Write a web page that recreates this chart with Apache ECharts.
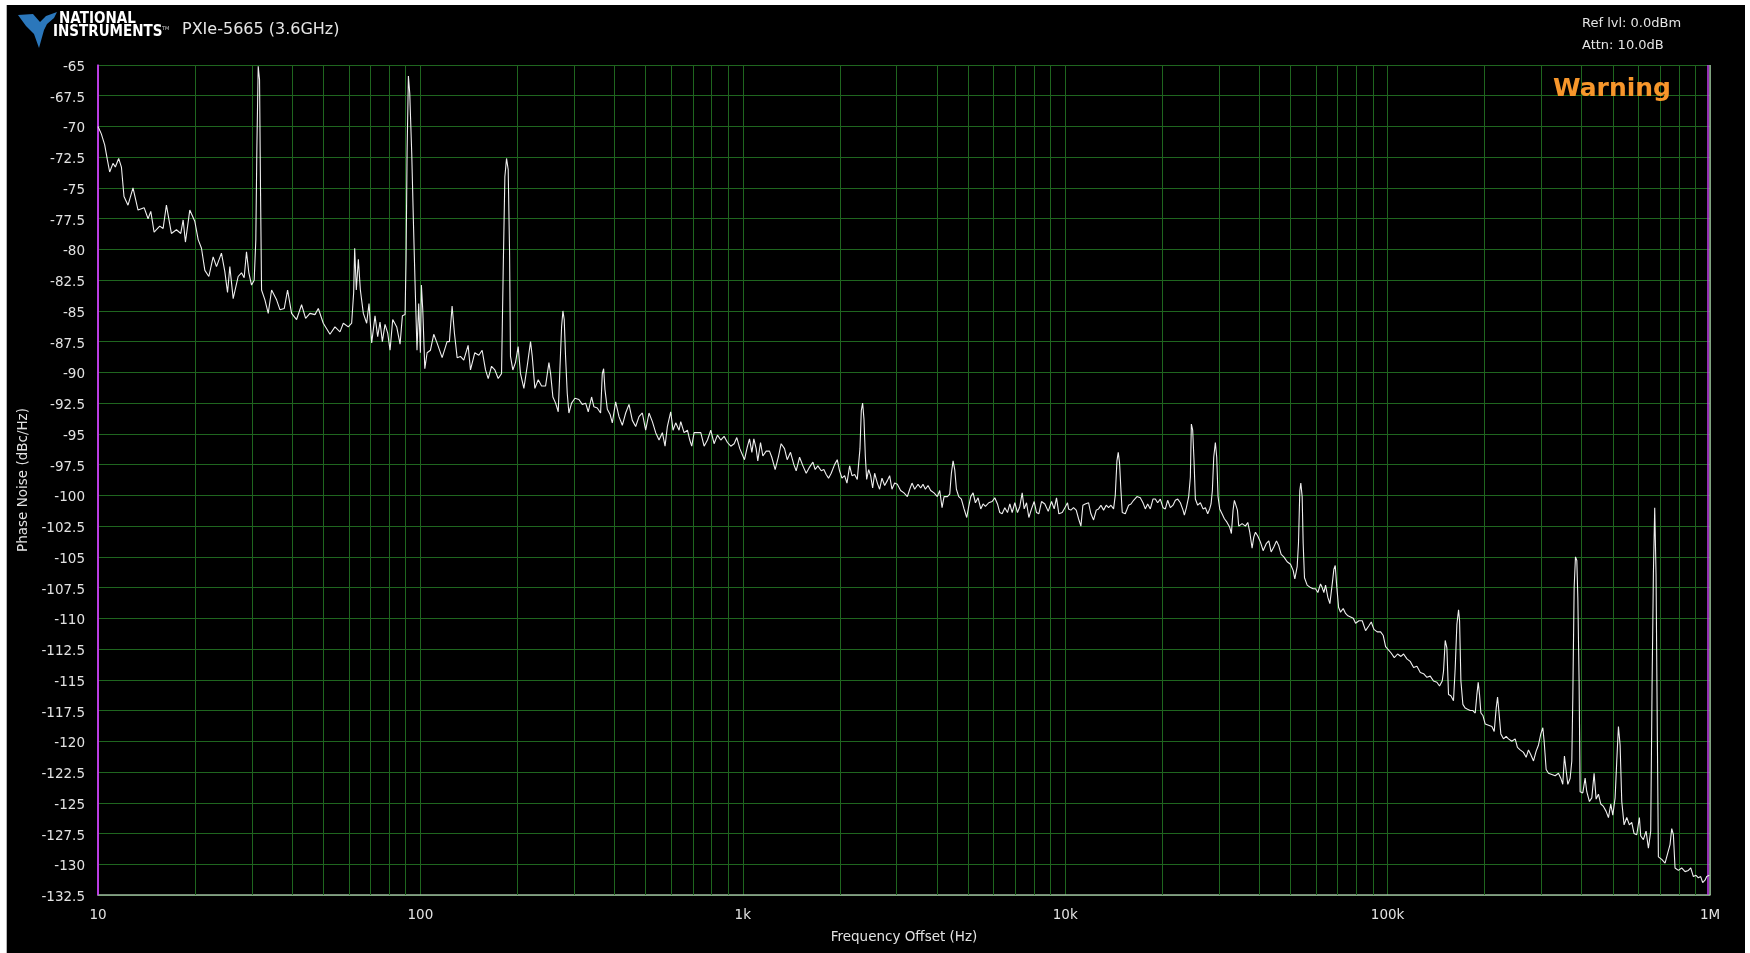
<!DOCTYPE html>
<html>
<head>
<meta charset="utf-8">
<title>PXIe-5665 Phase Noise</title>
<script src="https://cdn.jsdelivr.net/npm/echarts/dist/echarts.min.js"></script>
<style>
  html, body { margin: 0; padding: 0; background: #ffffff; width: 1750px; height: 953px; overflow: hidden; }
  #chart { position: absolute; left: 6px; top: 5px; width: 1738px; height: 948px; background: #000; border-left: 1px solid #b4b4b4; }
</style>
</head>
<body>
<div id="chart"></div>
<script>
// ---------------- DATA ----------------
const xTickLabels = ['10', '100', '1k', '10k', '100k', '1M'];
const yTickMin = -132.5, yTickMax = -65, yTickStep = 2.5;
const minorGridHz = [20,30,40,50,60,70,80,90, 200,300,400,500,600,700,800,900,
  2000,3000,4000,5000,6000,7000,8000,9000, 20000,30000,40000,50000,60000,70000,80000,90000,
  200000,300000,400000,500000,600000,700000,800000,900000];
const cursorLeftHz = 10;
const cursorRightHz = 985000;

// 10 Hz - 100 Hz
const offsetHz1 = [10.0,10.24,10.49,10.69,10.87,11.13,11.32,11.59,11.82,12.04,
  12.39,12.84,13.31,13.90,14.30,14.58,14.93,15.54,15.92,16.30,
  16.89,17.51,18.06,18.37,18.67,19.26,19.96,20.45,20.94,21.45,
  22.07,22.76,23.31,24.15,24.74,25.22,25.64,26.26,27.21,27.87,
  28.40,28.88,29.37,29.94,30.51,30.87,31.10,31.40,31.70,31.93,
  32.16,32.94,33.73,34.55,35.80,36.67,37.82,38.73,39.85,41.30,
  42.80,44.05,45.43,47.09,48.23,49.98,52.42,54.33,56.30,57.67,
  59.76,61.20,62.09,62.54,63.28,64.20,65.13,66.53,68.13,69.28,
  70.62,72.32,73.71,74.95,76.21,77.68,79.18,80.51,82.06,84.44,
  86.48,87.93,89.63,90.27,90.92,91.78,92.67,94.0,95.1,96.2,97.6];
const noise1 = [-70.0,-70.6,-71.5,-72.7,-73.7,-73.0,-73.3,-72.6,-73.3,-75.7,
  -76.4,-75.0,-76.8,-76.6,-77.5,-76.9,-78.6,-78.1,-78.3,-76.4,
  -78.7,-78.4,-78.7,-77.6,-79.4,-76.8,-77.7,-79.2,-79.9,-81.7,
  -82.2,-80.6,-81.4,-80.3,-81.8,-83.5,-81.4,-84.0,-82.2,-81.9,
  -82.3,-80.2,-81.9,-82.9,-82.5,-79.2,-71.8,-65.1,-66.2,-75.4,
  -83.3,-84.1,-85.2,-83.3,-84.1,-84.9,-84.8,-83.3,-85.2,-85.7,
  -84.5,-85.6,-85.2,-85.3,-84.8,-86.0,-86.9,-86.3,-86.7,-86.0,
  -86.3,-86.0,-83.5,-79.9,-83.3,-80.8,-83.3,-85.2,-86.0,-84.4,
  -87.6,-85.4,-87.1,-85.9,-87.5,-86.1,-86.8,-88.2,-85.7,-86.3,
  -87.7,-85.4,-85.3,-80.8,-72.2,-65.9,-67.3,-72.2,-77.6,-82.5,-88.2];

// 100 Hz - 1 kHz
const offsetHz2 = [98.8,100.0,100.7,101.7,103.2,104.9,107.4,110.0,112.6,116.8,
  121.0,123.0,125.4,127.5,130.0,133.1,136.3,140.6,143.0,147.5,
  151.8,155.4,159.2,162.3,166.2,170.2,174.3,178.5,180.6,182.8,
  185.0,187.2,189.0,190.3,193.5,197.2,201.0,204.4,209.4,214.4,
  219.6,222.3,226.5,232.0,237.6,244.5,250.4,253.4,257.6,262.6,
  267.6,270.8,274.1,276.7,279.3,282.0,285.4,288.8,294.4,301.5,
  310.2,317.7,325.4,331.6,339.6,345.3,353.7,362.2,366.6,370.1,
  373.7,380.0,387.3,393.8,403.3,413.0,423.0,433.2,443.6,454.3,
  465.3,476.5,488.0,499.7,511.8,524.2,536.8,549.8,563.0,573.9,
  583.4,597.6,607.6,619.4,634.3,642.0,657.5,673.4,684.7,694.5,
  706.2,723.2,740.7,758.6,776.9,795.6,814.7,834.3,854.5,874.9,
  896.2,917.7,940.0,958.0,978.8];
const noise2 = [-84.4,-88.4,-82.9,-84.9,-89.7,-88.4,-88.2,-86.9,-87.6,-88.8,
  -87.5,-87.5,-84.6,-86.8,-88.8,-88.7,-89.0,-87.8,-89.8,-88.4,
  -88.6,-88.2,-89.8,-90.5,-89.5,-89.8,-90.5,-90.1,-81.9,-74.1,
  -72.6,-73.5,-80.0,-88.7,-89.8,-89.2,-87.9,-90.1,-91.3,-89.5,
  -87.5,-88.7,-91.3,-90.6,-91.1,-91.1,-89.2,-90.1,-92.0,-92.5,
  -93.2,-89.8,-86.3,-85.0,-85.7,-88.7,-91.7,-93.3,-92.5,-92.1,
  -92.2,-92.6,-92.5,-93.2,-92.0,-92.8,-92.9,-93.3,-90.1,-89.7,
  -91.4,-93.0,-93.4,-94.1,-92.4,-93.6,-94.3,-93.3,-92.6,-93.9,
  -94.4,-93.6,-93.3,-94.7,-93.3,-94.0,-94.9,-95.5,-94.9,-96.0,
  -94.4,-93.2,-94.7,-94.1,-94.7,-94.0,-94.9,-94.7,-95.5,-96.0,
  -94.9,-94.9,-94.9,-96.0,-95.5,-94.7,-95.8,-95.1,-95.5,-95.2,
  -95.7,-96.0,-95.8,-95.3,-96.2];

// 1 kHz - 10 kHz
const offsetHz3 = [1012,1032,1049,1067,1082,1100,1113,1135,1154,1182,
  1210,1230,1260,1291,1315,1347,1373,1406,1440,1464,
  1500,1536,1573,1611,1650,1677,1709,1751,1784,1814,
  1845,1880,1926,1963,1996,2030,2069,2104,2145,2181,
  2223,2265,2287,2309,2331,2353,2376,2399,2422,2457,
  2492,2528,2564,2614,2657,2702,2754,2807,2854,2902,
  2958,3015,3087,3162,3239,3294,3349,3413,3496,3563,
  3622,3684,3754,3826,3919,4013,4081,4150,4210,4312,
  4384,4436,4490,4543,4598,4675,4764,4856,4950,5021,
  5093,5179,5266,5368,5471,5563,5657,5794,5934,6048,
  6165,6268,6374,6496,6622,6734,6847,6979,7112,7232,
  7355,7461,7586,7714,7862,8013,8147,8284,8444,8648,
  8857,9071,9244,9399,9557,9789,9977];
const noise3 = [-97.1,-96.1,-95.4,-96.5,-95.4,-96.2,-97.2,-95.7,-96.8,-96.4,
  -96.4,-96.9,-97.9,-96.8,-95.8,-96.2,-97.1,-96.5,-97.5,-98.0,
  -96.9,-97.6,-98.2,-97.7,-97.3,-97.9,-97.6,-98.0,-97.9,-98.3,
  -98.6,-98.2,-97.5,-97.1,-98.0,-98.6,-98.4,-99.0,-97.6,-98.4,
  -98.3,-98.7,-98.7,-96.2,-93.1,-92.5,-93.8,-96.8,-98.7,-97.9,
  -98.4,-99.4,-98.2,-99.0,-99.5,-98.6,-99.2,-98.8,-98.4,-99.5,
  -99.0,-99.1,-99.6,-99.8,-100.1,-99.5,-99.0,-99.5,-99.1,-99.4,
  -99.1,-99.5,-99.2,-99.6,-99.8,-100.1,-99.6,-101.0,-100.1,-100.1,
  -99.9,-98.2,-97.2,-97.9,-99.5,-100.1,-100.3,-101.1,-101.8,-100.9,
  -100.1,-99.8,-100.6,-100.2,-101.1,-100.7,-100.9,-100.6,-100.5,-100.2,
  -100.7,-101.4,-101.5,-101.0,-101.4,-100.7,-101.4,-100.6,-101.4,-100.9,
  -99.8,-101.1,-100.6,-101.8,-101.1,-100.5,-101.4,-101.5,-100.5,-100.7,
  -101.3,-100.5,-101.1,-100.2,-101.5,-101.4,-101.0];

// 10 kHz - 100 kHz
const offsetHz4 = [10167,10242,10413,10614,10818,11001,11186,11347,11537,11816,
  12015,12247,12483,12692,12906,13152,13406,13633,13861,14128,
  14298,14470,14607,14746,14890,15031,15357,15729,15993,16301,
  16696,17097,17427,17719,18019,18366,18720,19035,19353,19724,
  20107,20445,20788,21190,21599,21960,22332,22762,23200,23424,
  23762,24155,24446,24622,24855,25097,25335,25763,26260,26761,
  27214,27669,28067,28340,28609,28887,29228,29512,29792,30151,
  30655,31174,31775,32387,32770,33165,33480,33884,34213,34538,
  35374,36224,36838,37368,37994,38452,38916,39567,40330,41108,
  42095,42808,43526,44365,45221,45978,46758,47648,48802,49984,
  50933,51547,52420,52917,53420,53803,54325,54714,55234,56299,
  57663,58776,59760,60761,61934,62680,63435,64200,65274,66218,
  67342,68136,68798,69451,70450,71450,72830,74070,75310,76770,
  78250,79570,81470,83430,85450,87500,88980,90700,92880,95130,
  96940,98580];
const noise4 = [-100.6,-101.1,-101.2,-101.0,-101.2,-101.9,-102.5,-100.8,-100.7,-100.6,
  -101.5,-102.0,-101.2,-101.1,-100.8,-101.2,-100.8,-101.0,-100.8,-101.1,
  -100.0,-97.2,-96.5,-97.4,-99.6,-101.4,-101.5,-100.8,-100.7,-100.4,
  -100.1,-100.2,-100.6,-101.1,-100.7,-101.1,-100.3,-100.3,-100.6,-100.3,
  -101.0,-101.1,-100.4,-101.0,-100.8,-100.4,-100.3,-100.6,-101.2,-101.6,
  -101.0,-100.1,-98.5,-94.2,-94.7,-97.2,-100.3,-100.8,-100.6,-101.1,
  -101.0,-101.5,-101.1,-100.7,-99.6,-96.9,-95.7,-96.9,-100.1,-101.1,
  -101.5,-101.9,-102.2,-102.6,-103.1,-101.2,-100.4,-100.3,-101.2,-102.5,
  -102.3,-102.5,-102.2,-103.0,-104.3,-103.4,-103.0,-103.3,-103.8,-104.5,
  -103.9,-103.7,-104.6,-104.2,-103.7,-104.1,-104.8,-105.0,-105.4,-105.6,
  -106.1,-106.8,-105.8,-103.9,-99.6,-99.0,-100.1,-103.9,-106.7,-107.3,
  -107.5,-107.6,-107.6,-107.9,-107.2,-107.5,-107.9,-107.3,-108.3,-108.8,
  -107.2,-106.0,-105.7,-107.2,-109.1,-109.5,-109.2,-109.6,-109.8,-109.9,
  -110.0,-110.4,-110.2,-110.2,-111.0,-110.6,-110.3,-110.9,-111.1,-111.1,
  -111.4,-112.3];

// 100 kHz - 1 MHz
const offsetHz5 = [102400,104900,107400,110000,112100,114800,117500,120400,123300,126300,
  129300,132400,135600,138800,142200,144900,147700,149100,150900,152700,
  154500,157100,160100,162100,164000,166000,167200,168800,171200,174100,
  177000,180400,183900,187000,189200,191000,192800,194700,197500,200800,
  205600,210600,214100,217200,219300,221300,224500,228800,233200,237100,
  242800,248700,252800,257700,263900,269000,273500,278100,283500,288900,
  293800,298700,303000,305900,310300,315500,323100,330900,338800,344500,
  349400,353600,357900,362200,368300,372700,375400,379000,382600,386300,
  389100,392600,395500,403100,409900,414800,422700,429900,437000,443400,
  450800,458400,467200,476200,484200,492300,499400,507800,513800,520000,
  526200,532500,541400,551800,562300,571800,581400,592600,603900,609700,
  621400,633400,644100,654800,661100,667500,673800,680200,686800,691700,
  708400,725400,737700,751600,760800,769900,779000,797800,817000,836700,
  856900,871300,887900,905000,920100,935600,949100,965000,976600,995200];
const noise5 = [-112.8,-113.2,-112.9,-113.1,-112.9,-113.3,-113.5,-114.0,-113.9,-114.4,
  -114.5,-114.8,-114.7,-115.1,-115.2,-115.5,-115.1,-114.3,-111.8,-112.4,
  -116.2,-116.3,-116.7,-114.0,-110.5,-109.3,-110.2,-115.1,-117.0,-117.3,
  -117.4,-117.5,-117.5,-117.7,-116.2,-115.2,-116.2,-117.7,-117.9,-118.6,
  -118.7,-118.8,-119.2,-117.3,-116.4,-117.5,-119.4,-119.8,-119.6,-119.8,
  -120.0,-119.8,-120.5,-120.7,-120.9,-121.3,-120.7,-121.1,-121.6,-120.8,
  -120.3,-119.4,-118.9,-120.0,-122.3,-122.6,-122.7,-122.8,-122.6,-123.0,
  -123.5,-121.2,-122.4,-123.5,-123.0,-121.6,-116.4,-107.5,-105.0,-105.3,
  -108.3,-115.1,-124.1,-124.2,-123.0,-124.1,-124.9,-124.6,-122.6,-124.7,
  -124.3,-125.1,-125.3,-125.7,-126.2,-125.1,-126.0,-124.6,-121.6,-118.8,
  -120.3,-124.9,-126.8,-126.2,-126.8,-126.6,-127.5,-127.6,-126.2,-127.7,
  -128.0,-127.3,-128.7,-127.3,-115.6,-106.4,-101.0,-106.4,-120.0,-129.4,
  -129.6,-129.9,-129.2,-128.4,-127.1,-127.6,-130.3,-130.5,-130.3,-130.6,
  -130.5,-130.3,-131.0,-130.9,-131.1,-131.0,-131.5,-131.3,-131.0,-130.9];

// ---------------- BUILD ----------------
const decades = [[offsetHz1, noise1], [offsetHz2, noise2], [offsetHz3, noise3], [offsetHz4, noise4], [offsetHz5, noise5]];
const trace = [];
decades.forEach(([fs, vs]) => fs.forEach((f, i) => trace.push([f, vs[i]])));

const GRID_GREEN = '#1f661f';
const LABEL = '#e2e2e2';
const FONT = "'DejaVu Sans', Verdana, sans-serif";

const chart = echarts.init(document.getElementById('chart'), null, { renderer: 'canvas' });
chart.setOption({
  backgroundColor: '#000000',
  animation: false,
  grid: { left: 91, top: 60, right: 35, bottom: 58, containLabel: false, outerBoundsMode: 'none' },
  xAxis: {
    type: 'log', logBase: 10, min: 10, max: 1000000,
    name: 'Frequency Offset (Hz)', nameLocation: 'middle', nameGap: 35,
    nameTextStyle: { color: LABEL, fontSize: 13.5, fontFamily: FONT },
    axisLine: { show: true, onZero: false, lineStyle: { color: '#9fb89f', width: 1.5 } },
    axisTick: { show: false },
    axisLabel: {
      color: LABEL, fontSize: 13.5, fontFamily: FONT, margin: 13,
      showMinLabel: true, showMaxLabel: true,
      formatter: (val) => xTickLabels[Math.round(Math.log10(val)) - 1] || ''
    },
    splitLine: { show: true, lineStyle: { color: GRID_GREEN, width: 1 } },
    minorTick: { show: false }, minorSplitLine: { show: false }
  },
  yAxis: {
    type: 'value', min: yTickMin, max: yTickMax, interval: yTickStep,
    name: 'Phase Noise (dBc/Hz)', nameLocation: 'middle', nameGap: 58,
    nameTextStyle: { color: LABEL, fontSize: 13.5, fontFamily: FONT },
    axisLine: { show: true, onZero: false, lineStyle: { color: '#c63ff2', width: 1.5 } },
    axisTick: { show: false },
    axisLabel: { color: LABEL, fontSize: 13.5, fontFamily: FONT, margin: 13, verticalAlign: 'top', lineHeight: 5 },
    splitLine: { show: true, lineStyle: { color: GRID_GREEN, width: 1 } }
  },
  series: [
    {
      name: 'minor grid', type: 'line', data: [], z: 1, silent: true,
      markLine: {
        silent: true, symbol: ['none', 'none'], animation: false,
        label: { show: false },
        lineStyle: { color: GRID_GREEN, width: 1, type: 'solid' },
        emphasis: { disabled: true },
        data: minorGridHz.map(f => ({ xAxis: f }))
      }
    },
    {
      name: 'frame', type: 'line', data: [], z: 2, silent: true,
      markLine: {
        silent: true, symbol: ['none', 'none'], animation: false,
        label: { show: false }, emphasis: { disabled: true },
        data: [
          { xAxis: 1000000, lineStyle: { color: '#9fb89f', width: 1.5, type: 'solid' } },
          { xAxis: cursorRightHz, lineStyle: { color: '#c63ff2', width: 1.5, type: 'solid' } },
          { xAxis: cursorLeftHz, lineStyle: { color: '#c63ff2', width: 1.5, type: 'solid' } }
        ]
      }
    },
    {
      name: 'Phase Noise', type: 'line', data: trace, z: 5,
      showSymbol: false, symbol: 'none', sampling: false, smooth: false,
      lineStyle: { color: '#efefef', width: 1.1 },
      emphasis: { disabled: true }
    }
  ],
  graphic: [
    { type: 'polygon', shape: { points: [[11,10],[26,9],[33,17],[39,11],[50,7],[47,13],[40,19],[37,25],[32,43],[27,29],[19,21]] },
      style: { fill: '#2b77bb' } },
    { type: 'text', x: 52, y: 14, scaleX: 0.9, style: { text: 'NATIONAL', fill: '#ffffff', font: "bold 15px 'DejaVu Sans', sans-serif", textVerticalAlign: 'middle', textAlign: 'left' } },
    { type: 'text', x: 46, y: 27, scaleX: 0.9, style: { text: 'INSTRUMENTS', fill: '#ffffff', font: "bold 15px 'DejaVu Sans', sans-serif", textVerticalAlign: 'middle', textAlign: 'left' } },
    { type: 'text', x: 155, y: 24, style: { text: 'TM', fill: '#cfcfcf', font: "5px 'DejaVu Sans', sans-serif", textVerticalAlign: 'middle' } },
    { type: 'text', x: 175, y: 25, style: { text: 'PXIe-5665 (3.6GHz)', fill: '#e6e6e6', font: "16px 'DejaVu Sans', sans-serif", textVerticalAlign: 'middle', textAlign: 'left' } },
    { type: 'text', x: 1575, y: 19, style: { text: 'Ref lvl: 0.0dBm', fill: '#e4e4e4', font: "13px 'DejaVu Sans', sans-serif", textVerticalAlign: 'middle', textAlign: 'left' } },
    { type: 'text', x: 1575, y: 41, style: { text: 'Attn: 10.0dB', fill: '#e4e4e4', font: "13px 'DejaVu Sans', sans-serif", textVerticalAlign: 'middle', textAlign: 'left' } },
    { type: 'text', x: 1546, y: 84, z: 10, style: { text: 'Warning', fill: '#f7962b', font: "bold 25px 'DejaVu Sans', sans-serif", textVerticalAlign: 'middle', textAlign: 'left' } }
  ]
});
</script>
</body>
</html>
